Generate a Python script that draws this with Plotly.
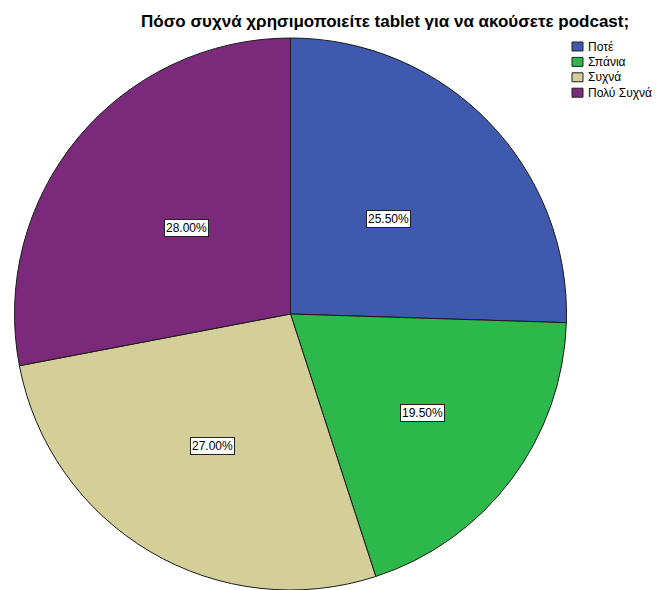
import math
import plotly.graph_objects as go

# Survey answers and their shares (percent)
categories = ["Ποτέ", "Σπάνια", "Συχνά", "Πολύ Συχνά"]
percentages = [25.5, 19.5, 27.0, 28.0]
slice_colors = ["#3E59AD", "#2DB84B", "#D4CE99", "#7B2A7B"]
title_text = "Πόσο συχνά χρησιμοποιείτε tablet για να ακούσετε podcast;"

W, H = 660, 590

# Pie geometry in pixels (centre and radius) -> domain in paper units
cx, cy, r = 290.5, 314.0, 276.0
dom_x = [(cx - r) / W, (cx + r) / W]
dom_y = [1 - (cy + r) / H, 1 - (cy - r) / H]

fig = go.Figure(
    go.Pie(
        labels=categories,
        values=percentages,
        sort=False,
        direction="clockwise",
        rotation=0,
        marker=dict(colors=slice_colors, line=dict(color="#1a1a1a", width=1)),
        textinfo="none",
        showlegend=False,
        domain=dict(x=dom_x, y=dom_y),
    )
)

annotations = []
shapes = []

# Boxed percentage labels placed along each slice's bisector
label_radius = [0.495, 0.60, 0.554, 0.488]
total = sum(percentages)
cum = 0.0
for val, frac in zip(percentages, label_radius):
    mid = (cum + val / 2) / total * 2 * math.pi
    cum += val
    px = cx + frac * r * math.sin(mid)
    py = cy - frac * r * math.cos(mid)
    annotations.append(
        dict(
            x=px / W, y=1 - py / H, xref="paper", yref="paper",
            text=f"{val:.2f}%", showarrow=False,
            font=dict(family="Liberation Sans, Arial, sans-serif", size=12, color="black"),
            bgcolor="white", bordercolor="#222222", borderwidth=1, borderpad=1,
            xanchor="center", yanchor="middle",
        )
    )

# Title
annotations.append(
    dict(
        x=385 / W, y=1 - 22 / H, xref="paper", yref="paper",
        text=f"<b>{title_text}</b>", showarrow=False,
        font=dict(family="Liberation Sans, Arial, sans-serif", size=17, color="black"),
        xanchor="center", yanchor="middle",
    )
)

# Legend drawn as swatches + labels
leg_x0, leg_y0, leg_step = 572, 42, 15.4
sw_w, sw_h = 11, 9
for i, (name, col) in enumerate(zip(categories, slice_colors)):
    top = leg_y0 + i * leg_step
    shapes.append(
        dict(
            type="rect", xref="paper", yref="paper",
            x0=leg_x0 / W, x1=(leg_x0 + sw_w) / W,
            y0=1 - (top + sw_h) / H, y1=1 - top / H,
            fillcolor=col, line=dict(color="#222222", width=1),
        )
    )
    annotations.append(
        dict(
            x=(leg_x0 + sw_w + 3) / W, y=1 - (top + sw_h / 2) / H,
            xref="paper", yref="paper", text=name, showarrow=False,
            font=dict(family="Liberation Sans, Arial, sans-serif", size=12, color="black"),
            xanchor="left", yanchor="middle",
        )
    )

fig.update_layout(
    width=W, height=H,
    margin=dict(l=0, r=0, t=0, b=0),
    paper_bgcolor="white", plot_bgcolor="white",
    annotations=annotations, shapes=shapes,
)

fig.write_html("out.html")
